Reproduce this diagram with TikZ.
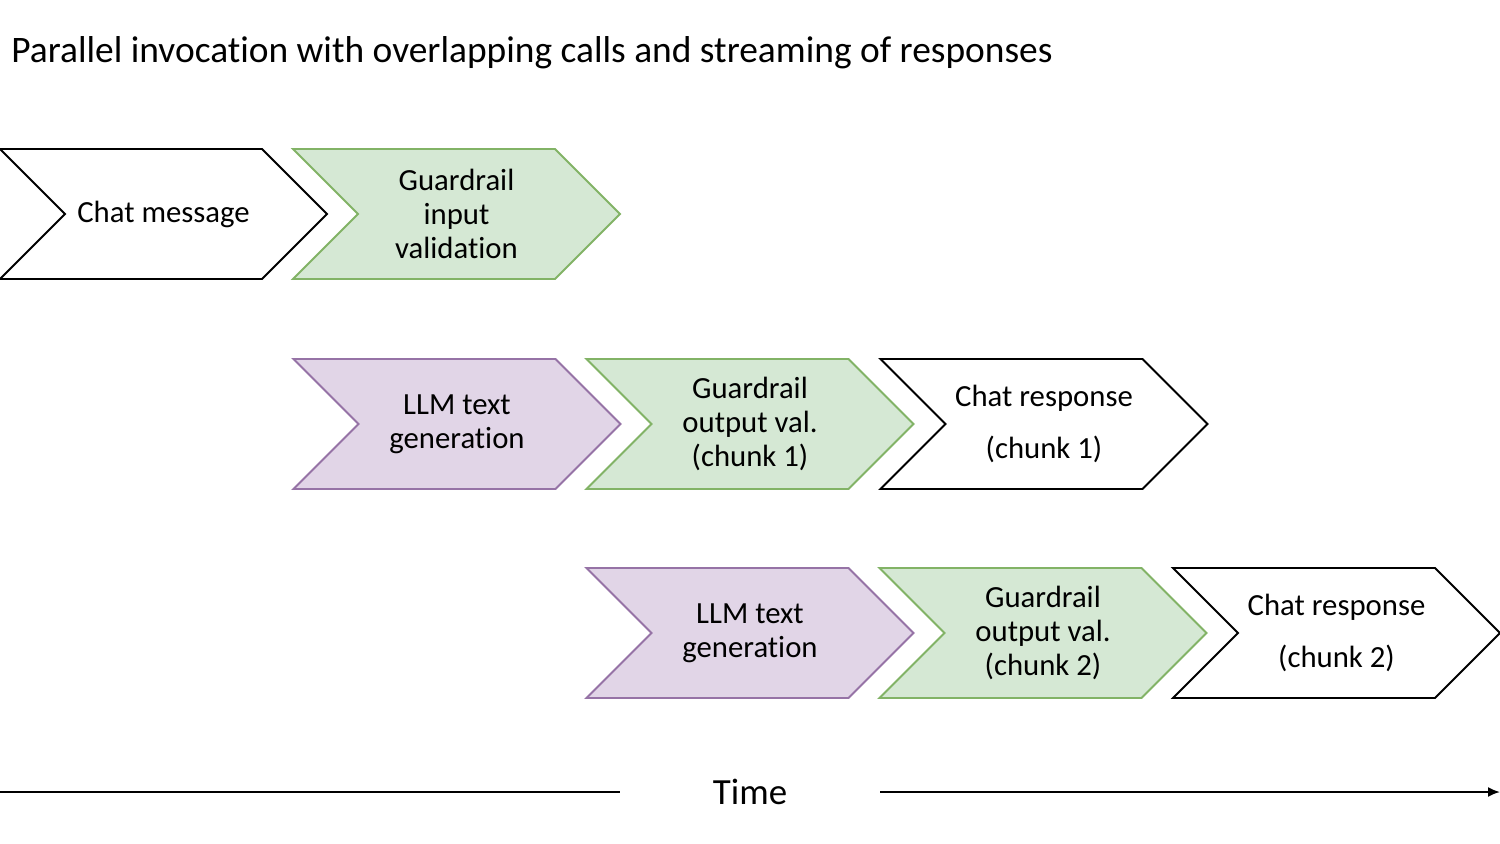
\documentclass[tikz,border=0pt]{standalone}
\usepackage{fontspec}
\setmainfont{Carlito}[Ligatures=NoCommon]
\usetikzlibrary{arrows.meta,positioning,shapes.symbols}
\definecolor{guardfill}{HTML}{D5E8D4}
\definecolor{guardline}{HTML}{82B366}
\definecolor{llmfill}{HTML}{E1D5E7}
\definecolor{llmline}{HTML}{9673A6}
\tikzset{
  stage/.style={signal,signal from=west,signal to=east,signal pointer angle=90,line width=1.1pt,minimum width=6.54cm,minimum height=2.6cm,inner sep=0pt,outer sep=0pt,align=center,font=\fontsize{17.5}{19.6}\selectfont},
  plainstage/.style={stage,fill=white,draw=black},
  guardstage/.style={stage,fill=guardfill,draw=guardline},
  llmstage/.style={stage,fill=llmfill,draw=llmline},
  timeline/.style={line width=1.1pt},
  titletext/.style={font=\fontsize{21.3}{25}\selectfont,inner sep=0pt},
  timetext/.style={font=\fontsize{21}{25}\selectfont,minimum width=5.2cm,inner sep=0pt}
}
\begin{document}
\begin{tikzpicture}[x=0.02cm,y=-0.02cm]
  \useasboundingbox (0,0) rectangle (1500,844);
  \node[titletext,anchor=base west] (title) at (11,63) {Parallel invocation with overlapping calls and streaming of responses};

  % first row: request and input check
  \node[plainstage] (msg) at (163.5,214) {Chat message};
  \node[guardstage] (guardin) at (456.5,214) {Guardrail\\input\\validation};

  % second row: first chunk
  \node[llmstage] (llmone) at (457,424) {LLM text\\generation};
  \node[guardstage] (guardone) at (750,424) {Guardrail\\output val.\\(chunk 1)};
  \node[plainstage] (respone) at (1044,424) {Chat response\\[10pt](chunk 1)};

  % third row: second chunk
  \node[llmstage] (llmtwo) at (750,633) {LLM text\\generation};
  \node[guardstage] (guardtwo) at (1043,633) {Guardrail\\output val.\\(chunk 2)};
  \node[plainstage] (resptwo) at (1336.5,633) {Chat response\\[10pt](chunk 2)};

  % time axis
  \coordinate (tstart) at (0,792);
  \coordinate (tend) at (1500,792);
  \node[timetext] (time) at (750,792) {Time};
  \draw[timeline] (tstart) -- (time.west);
  \draw[timeline,-{Latex[length=2.4mm,width=2mm]}] (time.east) -- (tend);
\end{tikzpicture}
\end{document}
